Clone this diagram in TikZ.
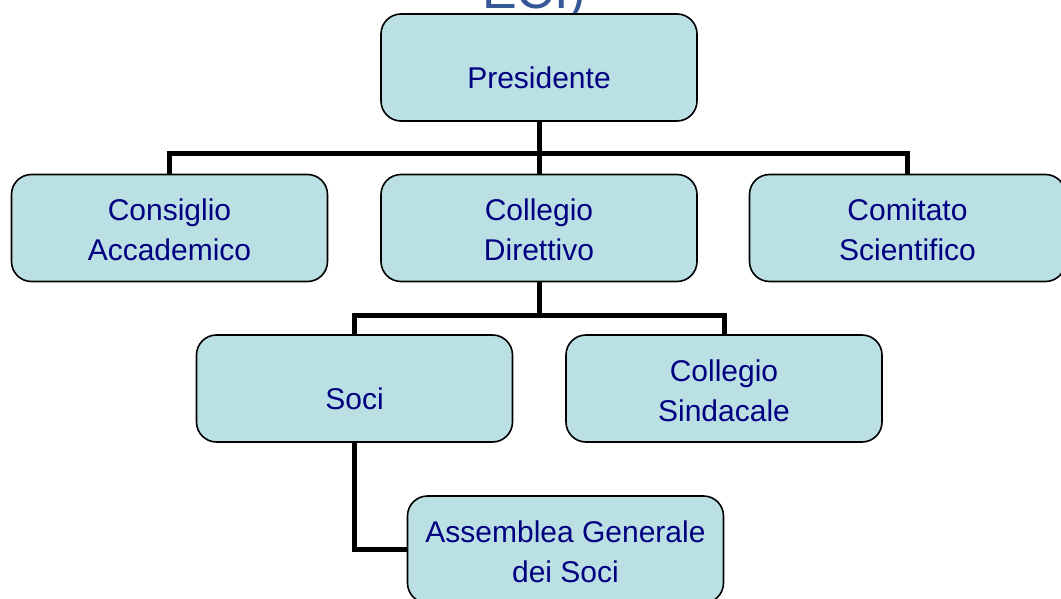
\documentclass[tikz,border=0pt]{standalone}
\usepackage{fontspec}
\setmainfont{Liberation Sans}
\usetikzlibrary{backgrounds}
\definecolor{boxfill}{RGB}{187,224,227}
\definecolor{txtnavy}{RGB}{0,0,128}
\definecolor{titleblue}{RGB}{52,88,150}
\tikzset{
  box/.style={draw=black, line width=1.6pt, fill=boxfill, rounded corners=20pt,
    minimum width=316pt, minimum height=107pt, inner sep=0pt},
  txt/.style={text=txtnavy, font=\fontsize{30}{40}\selectfont, align=center, inner sep=0pt},
  conn/.style={draw=black, line width=5pt, line join=miter}
}
\begin{document}
\begin{tikzpicture}[x=1pt,y=-1pt]
\useasboundingbox (0,0) rectangle (1061,599);
\clip (0,0) rectangle (1061,599);
\node[text=titleblue, font=\fontsize{52}{52}\selectfont, anchor=base west, inner sep=0pt] (title) at (482,9) {ECI)};
% boxes
\node[box] (pres) at (539,67.5) {};
\node[box] (cons) at (169.5,228) {};
\node[box] (dir) at (539,228) {};
\node[box] (comi) at (907.5,228) {};
\node[box] (soci) at (354.5,388.5) {};
\node[box] (sind) at (724,388.5) {};
\node[box] (ass) at (565.5,549.5) {};
% texts
\node[txt] (pres-t) at ([yshift=-10pt]pres.center) {Presidente};
\node[txt] (cons-t) at ([yshift=-2pt]cons.center) {Consiglio\\Accademico};
\node[txt] (dir-t) at ([yshift=-2pt]dir.center) {Collegio\\Direttivo};
\node[txt] (comi-t) at ([yshift=-2pt]comi.center) {Comitato\\Scientifico};
\node[txt] (soci-t) at ([yshift=-10pt]soci.center) {Soci};
\node[txt] (sind-t) at ([yshift=-2pt]sind.center) {Collegio\\Sindacale};
\node[txt] (ass-t) at ([yshift=-2pt]ass.center) {Assemblea Generale\\dei Soci};
% connectors
\begin{pgfonlayer}{background}
\draw[conn] (pres.south) -- (dir.north);
\draw[conn] (cons.north) -- ++(0,-20) -| (comi.north);
\draw[conn] (dir.south) -- ++(0,34);
\draw[conn] (soci.north) -- ++(0,-19) -| (sind.north);
\draw[conn] (soci.south) |- (ass.west);
\end{pgfonlayer}
\end{tikzpicture}
\end{document}
